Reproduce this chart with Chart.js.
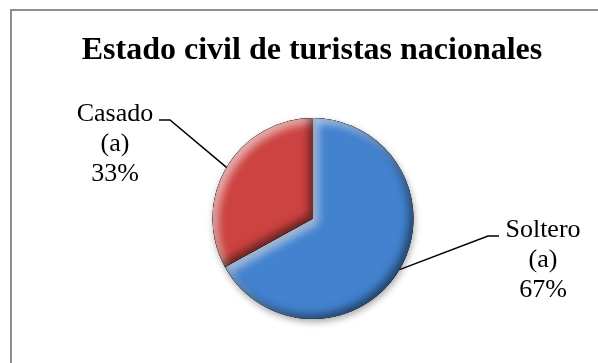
<!DOCTYPE html>
<html>
<head>
<meta charset="utf-8">
<script src="https://cdn.jsdelivr.net/npm/chart.js@4.4.1/dist/chart.umd.min.js"></script>
<style>
  html, body { margin: 0; padding: 0; background: #fff; }
  #wrap { width: 598px; height: 363px; }
</style>
</head>
<body>
<div id="wrap"><canvas id="pieChart" width="598" height="363"></canvas></div>
<script>
const chartTitle = "Estado civil de turistas nacionales";
const categories = ["Soltero (a)", "Casado (a)"];
const values = [67, 33];
const sliceColors = ["#4282cf", "#cc4341"];

// leader line elbow / end and the text block for each slice label
const labelSpots = [
  { elbowX: 488, endX: 499, y: 236, textX: 543 },
  { elbowX: 170, endX: 159, y: 120, textX: 115 }
];

const SERIF = "'Liberation Serif', 'Times New Roman', serif";

function arcPath(ctx, el) {
  const { x, y, startAngle, endAngle, outerRadius } = el;
  ctx.beginPath();
  ctx.moveTo(x, y);
  ctx.arc(x, y, outerRadius, startAngle, endAngle);
  ctx.closePath();
}

// inner shadow along the slice edges (fakes the bevel look)
function innerShade(ctx, el, color, dx, dy, blur) {
  const { x, y, startAngle, endAngle, outerRadius } = el;
  ctx.save();
  arcPath(ctx, el);
  ctx.clip();
  ctx.beginPath();
  ctx.rect(-2000, -2000, 5000, 5000);
  ctx.moveTo(x, y);
  ctx.arc(x, y, outerRadius, startAngle, endAngle);
  ctx.closePath();
  ctx.shadowColor = color;
  ctx.shadowBlur = blur;
  ctx.shadowOffsetX = dx;
  ctx.shadowOffsetY = dy;
  ctx.fillStyle = "#000";
  ctx.fill("evenodd");
  ctx.restore();
}

const framePlugin = {
  id: "frame",
  beforeDraw(chart) {
    const ctx = chart.ctx;
    ctx.save();
    ctx.strokeStyle = "#8e8e8e";
    ctx.lineWidth = 2;
    ctx.beginPath();
    ctx.moveTo(11, chart.height);
    ctx.lineTo(11, 10);
    ctx.lineTo(chart.width, 10);
    ctx.stroke();
    ctx.restore();
  }
};

const titlePlugin = {
  id: "pieTitle",
  afterDraw(chart) {
    const ctx = chart.ctx;
    const meta = chart.getDatasetMeta(0);
    ctx.save();
    ctx.font = "bold 32px " + SERIF;
    ctx.fillStyle = "#000";
    ctx.textAlign = "center";
    ctx.textBaseline = "alphabetic";
    ctx.fillText(chartTitle, meta.data[0].x - 1, 59);
    ctx.restore();
  }
};

const bevelPlugin = {
  id: "bevel",
  beforeDatasetsDraw(chart) {
    const ctx = chart.ctx;
    ctx.save();
    ctx.shadowColor = "rgba(0,0,0,0.35)";
    ctx.shadowBlur = 7;
    ctx.shadowOffsetX = 1;
    ctx.shadowOffsetY = 3;
  },
  afterDatasetsDraw(chart) {
    const ctx = chart.ctx;
    ctx.restore();
    chart.getDatasetMeta(0).data.forEach(el => {
      innerShade(ctx, el, "rgba(255,255,255,0.6)", 5, 5, 8);
      innerShade(ctx, el, "rgba(0,0,0,0.5)", -4, -4, 8);
    });
  }
};

const labelPlugin = {
  id: "sliceLabels",
  afterDraw(chart) {
    const ctx = chart.ctx;
    const total = values.reduce((a, b) => a + b, 0);
    chart.getDatasetMeta(0).data.forEach((el, i) => {
      const spot = labelSpots[i];
      const mid = (el.startAngle + el.endAngle) / 2;
      const ex = el.x + Math.cos(mid) * el.outerRadius;
      const ey = el.y + Math.sin(mid) * el.outerRadius;

      ctx.save();
      ctx.strokeStyle = "#000";
      ctx.lineWidth = 1.5;
      ctx.beginPath();
      ctx.moveTo(ex, ey);
      ctx.lineTo(spot.elbowX, spot.y);
      ctx.lineTo(spot.endX, spot.y);
      ctx.stroke();

      const lines = categories[i].split(" ");
      lines.push(Math.round(values[i] / total * 100) + "%");
      ctx.font = "26px " + SERIF;
      ctx.fillStyle = "#000";
      ctx.textAlign = "center";
      ctx.textBaseline = "alphabetic";
      lines.forEach((t, k) => ctx.fillText(t, spot.textX, spot.y + 1 + k * 30));
      ctx.restore();
    });
  }
};

new Chart(document.getElementById("pieChart"), {
  type: "pie",
  data: {
    labels: categories,
    datasets: [{
      data: values,
      backgroundColor: sliceColors,
      borderWidth: 0
    }]
  },
  options: {
    responsive: false,
    animation: false,
    layout: { padding: { top: 118, bottom: 44, left: 163, right: 135 } },
    plugins: {
      legend: { display: false },
      tooltip: { enabled: false },
      title: { display: false }
    }
  },
  plugins: [framePlugin, bevelPlugin, labelPlugin, titlePlugin]
});
</script>
</body>
</html>
